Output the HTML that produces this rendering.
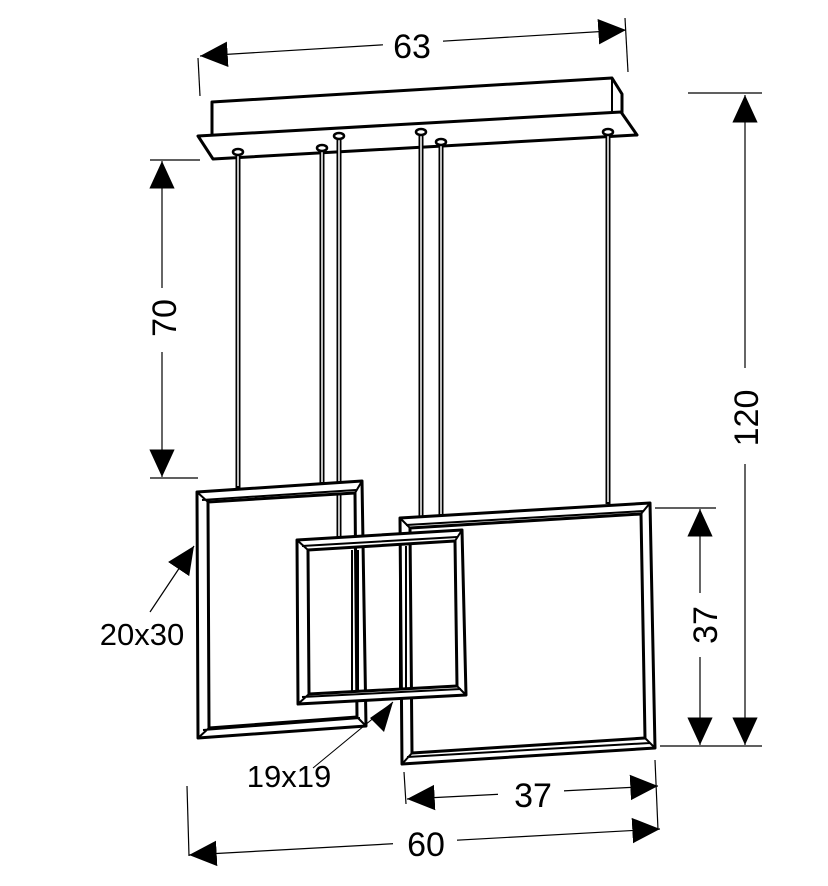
<!DOCTYPE html>
<html><head><meta charset="utf-8"><style>
html,body{margin:0;padding:0;background:#fff}
svg{display:block}
text{font-family:"Liberation Sans",Arial,sans-serif;font-size:34px;fill:#000}
</style></head><body>
<svg width="828" height="886" viewBox="0 0 828 886" xmlns="http://www.w3.org/2000/svg">
<defs>
<marker id="a" markerUnits="userSpaceOnUse" markerWidth="30" markerHeight="30" refX="24" refY="0" viewBox="0 -13 26 26" orient="auto-start-reverse">
<path d="M0,-11 L24,0 L0,11 Z" fill="#000"/>
</marker>
</defs>
<g fill="none" stroke="#000" stroke-width="1.2">
<line x1="198" y1="58" x2="200" y2="96"/>
<line x1="625" y1="18" x2="628" y2="72"/>
<line x1="688" y1="93" x2="762" y2="93"/>
<line x1="660" y1="746" x2="762" y2="746"/>
<line x1="150" y1="160" x2="200" y2="160"/>
<line x1="150" y1="478" x2="198" y2="478"/>
<line x1="655" y1="508" x2="716" y2="508"/>
<line x1="404" y1="772" x2="406" y2="804"/>
<line x1="655" y1="760" x2="658" y2="830"/>
<line x1="187" y1="786" x2="189" y2="856"/>
<line x1="200" y1="56" x2="626" y2="30" marker-start="url(#a)" marker-end="url(#a)"/>
<line x1="745" y1="95" x2="745" y2="745" marker-start="url(#a)" marker-end="url(#a)"/>
<line x1="162" y1="161" x2="162" y2="477" marker-start="url(#a)" marker-end="url(#a)"/>
<line x1="700" y1="509" x2="700" y2="745" marker-start="url(#a)" marker-end="url(#a)"/>
<line x1="407" y1="799" x2="658" y2="786" marker-start="url(#a)" marker-end="url(#a)"/>
<line x1="189" y1="855" x2="660" y2="829" marker-start="url(#a)" marker-end="url(#a)"/>
<line x1="150" y1="612" x2="194" y2="546" marker-end="url(#a)"/>
<line x1="313" y1="768" x2="393" y2="702" stroke-width="1"/>
</g>
<path d="M393,702 L370,718 L384,732 Z" fill="#000"/>
<g fill="#fff">
<rect x="383" y="24" width="60" height="38"/>
<rect x="726" y="368" width="38" height="96"/>
<rect x="143" y="288" width="38" height="64"/>
<rect x="681" y="593" width="38" height="64"/>
<rect x="498" y="775" width="66" height="36"/>
<rect x="393" y="820" width="64" height="42"/>
</g>
<g>
<text x="412" y="58" text-anchor="middle">63</text>
<text transform="translate(758,418) rotate(-90)" text-anchor="middle">120</text>
<text transform="translate(176,318) rotate(-90)" text-anchor="middle">70</text>
<text transform="translate(717,625) rotate(-90)" text-anchor="middle">37</text>
<text x="533" y="807" text-anchor="middle">37</text>
<text x="426" y="856" text-anchor="middle">60</text>
<text x="142" y="645" text-anchor="middle" style="font-size:31px">20x30</text>
<text x="289" y="787" text-anchor="middle" style="font-size:31px">19x19</text>
</g>
<g stroke="#000" stroke-width="3" fill="#fff" stroke-linejoin="round">
<path d="M212,102 L612,78 L622,94 L622,116 L212,138 Z"/>
<line x1="612" y1="78" x2="612" y2="112" stroke-width="2"/>
<path d="M198,136 L621,112 L637,135 L213,159 Z"/>
</g>
<g stroke="#000" stroke-width="5" fill="none">
<line x1="238" y1="152" x2="238" y2="488"/>
<line x1="322" y1="148" x2="322" y2="484"/>
<line x1="339" y1="136" x2="339" y2="538"/>
<line x1="421" y1="132" x2="421" y2="528"/>
<line x1="441" y1="142" x2="441" y2="516"/>
<line x1="608" y1="132" x2="608" y2="504"/>
</g>
<g stroke="#fff" stroke-width="1.5">
<line x1="238" y1="154" x2="238" y2="486"/>
<line x1="322" y1="150" x2="322" y2="482"/>
<line x1="339" y1="138" x2="339" y2="536"/>
<line x1="421" y1="134" x2="421" y2="526"/>
<line x1="441" y1="144" x2="441" y2="514"/>
<line x1="608" y1="134" x2="608" y2="502"/>
</g>
<g fill="#fff" stroke="#000" stroke-width="2.5">
<ellipse cx="238" cy="152" rx="5" ry="3"/>
<ellipse cx="322" cy="148" rx="5" ry="3"/>
<ellipse cx="339" cy="136" rx="5" ry="3"/>
<ellipse cx="421" cy="132" rx="5" ry="3"/>
<ellipse cx="441" cy="142" rx="5" ry="3"/>
<ellipse cx="608" cy="132" rx="5" ry="3"/>
</g>
<g stroke="#000" stroke-width="3" fill="#fff" fill-rule="evenodd" stroke-linejoin="round">
<path d="M197,492 L362,481 L366,726 L198,738 Z M208,502 L355,493 L357,717 L209,728 Z"/>
<path d="M202,500 L356,490 M203,730 L360,718 M197,492 L208,502 M362,481 L355,493 M366,726 L357,717 M198,738 L209,728" fill="none" stroke-width="2"/>
<path d="M400,518 L650,503 L655,748 L402,764 Z M410,528 L641,514 L645,738 L412,753 Z"/>
<path d="M406,525 L644,511 M407,757 L650,743 M400,518 L410,528 M650,503 L641,514 M655,748 L645,738 M402,764 L412,753" fill="none" stroke-width="2"/>
<path d="M297,540 L462,530 L466,695 L298,704 Z M308,550 L455,541 L457,686 L309,694 Z"/>
<path d="M302,546 L457,537 M302,697 L461,689 M297,540 L308,550 M462,530 L455,541 M466,695 L457,686 M298,704 L309,694" fill="none" stroke-width="2"/>
</g>
<g stroke="#000" stroke-width="2" fill="none">
<line x1="352" y1="550" x2="352" y2="692"/>
<line x1="358" y1="550" x2="358" y2="692"/>
<line x1="400" y1="546" x2="400" y2="690"/>
<line x1="406" y1="546" x2="406" y2="690"/>
</g>
</svg>
</body></html>
